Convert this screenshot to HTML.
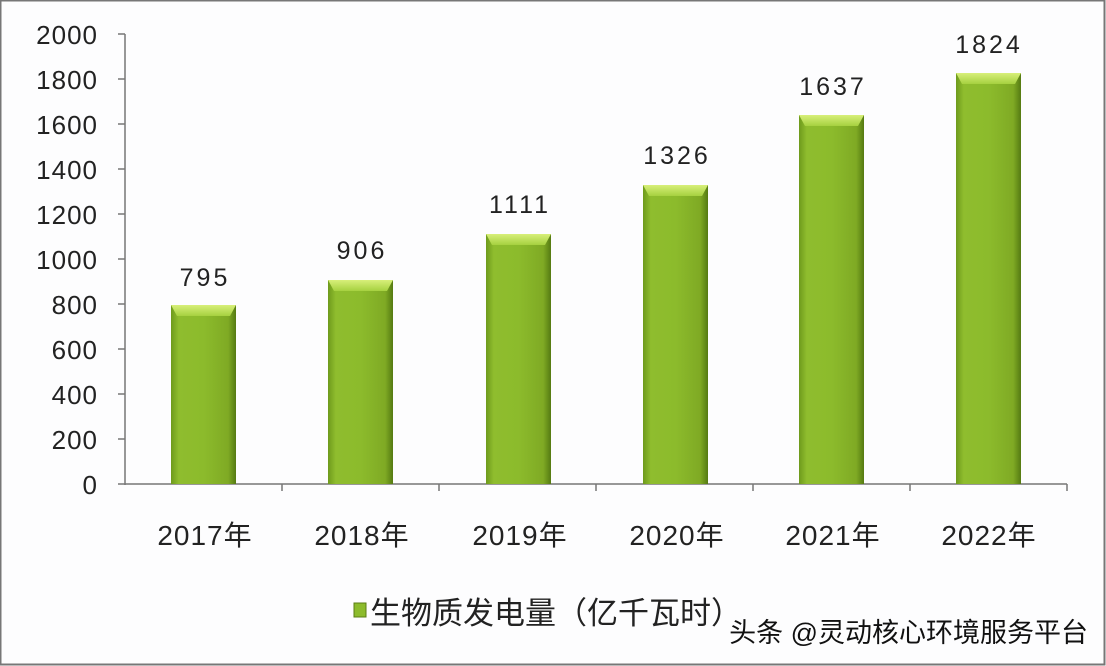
<!DOCTYPE html>
<html><head><meta charset="utf-8"><style>
body{margin:0;background:#fff}
svg{display:block}
text{font-family:"Liberation Sans","Noto Sans CJK SC",sans-serif;fill:#222}
</style></head><body>
<svg width="1106" height="666" viewBox="0 0 1106 666">
<defs>
<linearGradient id="g" x1="0" x2="1" y1="0" y2="0">
<stop offset="0" stop-color="#6e9a1c"/><stop offset="0.12" stop-color="#8fbd2e"/>
<stop offset="0.5" stop-color="#8cbb2c"/><stop offset="0.88" stop-color="#7faa24"/><stop offset="1" stop-color="#557a12"/>
</linearGradient>
<linearGradient id="t" x1="0" x2="0" y1="0" y2="1">
<stop offset="0" stop-color="#d8ef7a"/><stop offset="1" stop-color="#a6d140"/>
</linearGradient>
</defs>
<rect x="0.5" y="0.5" width="1104" height="664" fill="#fdfdfe" stroke="#777" stroke-width="2"/>
<g stroke="#777" stroke-width="1.5">
<line x1="125" y1="34" x2="125" y2="485"/>
<line x1="118" y1="484" x2="1067" y2="484"/>
<line x1="118" y1="34" x2="125" y2="34"/><line x1="118" y1="79" x2="125" y2="79"/>
<line x1="118" y1="124" x2="125" y2="124"/><line x1="118" y1="169" x2="125" y2="169"/>
<line x1="118" y1="214" x2="125" y2="214"/><line x1="118" y1="259" x2="125" y2="259"/>
<line x1="118" y1="304" x2="125" y2="304"/><line x1="118" y1="349" x2="125" y2="349"/>
<line x1="118" y1="394" x2="125" y2="394"/><line x1="118" y1="439" x2="125" y2="439"/>
<line x1="282" y1="484" x2="282" y2="491"/><line x1="439" y1="484" x2="439" y2="491"/>
<line x1="596" y1="484" x2="596" y2="491"/><line x1="753" y1="484" x2="753" y2="491"/>
<line x1="910" y1="484" x2="910" y2="491"/><line x1="1067" y1="484" x2="1067" y2="491"/>
</g>
<g font-size="26" text-anchor="end" letter-spacing="1">
<text x="98" y="44">2000</text><text x="98" y="89">1800</text><text x="98" y="134">1600</text>
<text x="98" y="179">1400</text><text x="98" y="224">1200</text><text x="98" y="269">1000</text>
<text x="98" y="314">800</text><text x="98" y="359">600</text><text x="98" y="404">400</text>
<text x="98" y="449">200</text><text x="98" y="494">0</text>
</g>
<g>
<rect x="171" y="305" width="65" height="179" fill="url(#g)"/><polygon points="171,305 236,305 230,316 177,316" fill="url(#t)"/>
<rect x="328" y="280" width="65" height="204" fill="url(#g)"/><polygon points="328,280 393,280 387,291 334,291" fill="url(#t)"/>
<rect x="486" y="234" width="65" height="250" fill="url(#g)"/><polygon points="486,234 551,234 545,245 492,245" fill="url(#t)"/>
<rect x="643" y="185" width="65" height="299" fill="url(#g)"/><polygon points="643,185 708,185 702,196 649,196" fill="url(#t)"/>
<rect x="799" y="115" width="65" height="369" fill="url(#g)"/><polygon points="799,115 864,115 858,126 805,126" fill="url(#t)"/>
<rect x="956" y="73" width="65" height="411" fill="url(#g)"/><polygon points="956,73 1021,73 1015,84 962,84" fill="url(#t)"/>
</g>
<g font-size="25" text-anchor="middle" letter-spacing="3">
<text x="205" y="286">795</text><text x="362" y="259">906</text><text x="520" y="213">1111</text>
<text x="677" y="164">1326</text><text x="833" y="95">1637</text><text x="989" y="53">1824</text>
</g>
<g font-size="28" text-anchor="middle" letter-spacing="1">
<text x="205" y="545">2017年</text><text x="362" y="545">2018年</text><text x="520" y="545">2019年</text>
<text x="677" y="545">2020年</text><text x="833" y="545">2021年</text><text x="989" y="545">2022年</text>
</g>
<rect x="354" y="603" width="12" height="14" fill="#8cbb2c" stroke="#5a7d14"/>
<text x="370" y="624" font-size="31">生物质发电量（亿千瓦时）</text>
<text x="1088" y="642" font-size="27" text-anchor="end" style="fill:#111">头条 @灵动核心环境服务平台</text>
</svg>
</body></html>
